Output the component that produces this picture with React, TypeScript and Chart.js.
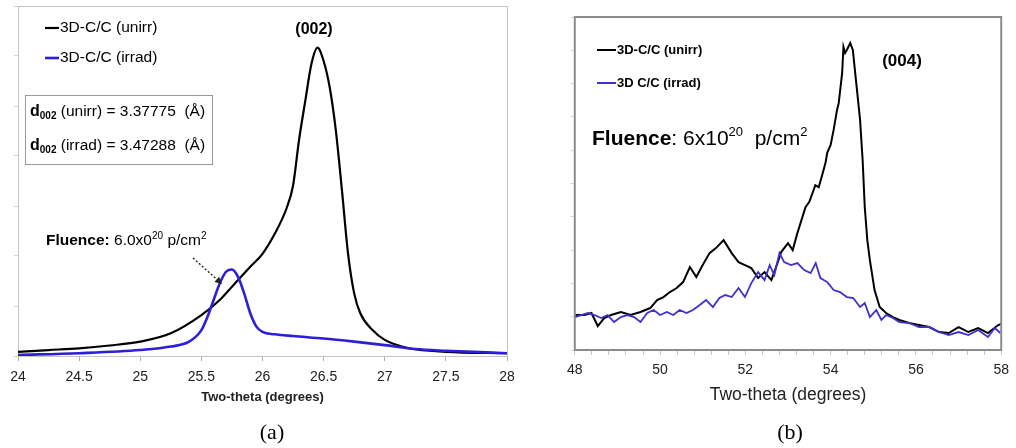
import React, { useEffect, useRef } from "react";
import { Chart, registerables } from "chart.js";
Chart.register(...registerables);

const FONT = "'Liberation Sans', Arial, Helvetica, sans-serif";
const SERIF = "'Liberation Serif', 'Times New Roman', serif";

// ---------- Panel (a): (002) peak ----------
const thetaA_unirr = [24, 24.25, 24.5, 24.75, 25, 25.25, 25.5, 25.65, 25.75, 25.9, 26, 26.1, 26.2, 26.25, 26.3, 26.35, 26.4, 26.45, 26.5, 26.55, 26.6, 26.65, 26.7, 26.75, 26.8, 26.9, 27, 27.2, 27.5, 28];
const intensityA_unirr = [1.2, 1.7, 2.2, 3.0, 4.1, 6.5, 11.7, 16, 19.8, 25.5, 29.2, 34.9, 42.5, 48.7, 62, 72.9, 83.4, 88.1, 84.3, 76.7, 64.4, 47.3, 29.2, 17.9, 12.2, 7.4, 4.6, 2.2, 1.2, 0.8];
const thetaA_irrad = [24, 24.5, 25, 25.25, 25.4, 25.5, 25.55, 25.6, 25.65, 25.7, 25.75, 25.8, 25.85, 25.9, 25.95, 26, 26.1, 26.25, 26.5, 26.75, 27, 27.25, 27.5, 28];
const intensityA_irrad = [0.3, 0.8, 1.7, 2.7, 4.1, 7.4, 11.2, 16, 20.7, 24, 24.7, 22.6, 17.9, 12.2, 8.4, 6.9, 6.2, 5.7, 5.0, 4.1, 3.1, 2.0, 1.5, 0.8];
const legendA = ["3D-C/C (unirr)", "3D-C/C (irrad)"];
const dSpacingA = ["3.37775", "3.47288"];

// ---------- Panel (b): (004) peak ----------
const thetaB_unirr = [48, 48.23, 48.39, 48.54, 48.69, 48.85, 49.08, 49.31, 49.54, 49.77, 49.93, 50.08, 50.23, 50.39, 50.54, 50.7, 50.85, 51.0, 51.16, 51.31, 51.49, 51.68, 51.84, 51.99, 52.14, 52.3, 52.45, 52.61, 52.72, 52.84, 53.0, 53.11, 53.22, 53.41, 53.5, 53.6, 53.64, 53.72, 53.8, 53.88, 53.92, 54.0, 54.07, 54.15, 54.19, 54.27, 54.3, 54.34, 54.38, 54.46, 54.52, 54.61, 54.69, 54.75, 54.8, 54.86, 54.92, 55.03, 55.15, 55.3, 55.46, 55.61, 55.84, 56.07, 56.31, 56.54, 56.77, 57.0, 57.23, 57.46, 57.69, 57.93, 58];
const intensityB_unirr = [10.5, 10.5, 11.1, 7.2, 9.6, 10.5, 11.4, 10.5, 11.4, 12.6, 15.0, 15.9, 17.4, 18.6, 20.4, 24.9, 21.9, 25.5, 29.1, 30.6, 33.0, 29.1, 26.4, 25.5, 24.6, 21.6, 23.4, 21.0, 24.9, 29.4, 32.1, 30.0, 35.1, 42.9, 44.5, 48.0, 49.5, 48.9, 52.5, 56.2, 59.2, 61.6, 66.1, 72.1, 74.2, 83.2, 91.0, 89.2, 90.1, 92.2, 90.1, 79.0, 69.1, 57.1, 42.9, 33.0, 27.0, 18.0, 12.9, 11.1, 9.9, 9.0, 8.1, 7.5, 6.9, 5.4, 5.1, 6.9, 5.4, 6.6, 5.1, 7.5, 7.8];
const thetaB_irrad = [48, 48.31, 48.46, 48.62, 48.77, 48.92, 49.08, 49.23, 49.39, 49.54, 49.7, 49.85, 50.0, 50.16, 50.31, 50.46, 50.62, 50.77, 50.93, 51.08, 51.24, 51.39, 51.53, 51.68, 51.84, 51.99, 52.14, 52.3, 52.45, 52.57, 52.68, 52.8, 52.91, 53.07, 53.22, 53.38, 53.53, 53.65, 53.76, 53.92, 54.07, 54.22, 54.38, 54.53, 54.69, 54.8, 54.92, 55.07, 55.19, 55.3, 55.46, 55.61, 55.84, 56.07, 56.31, 56.54, 56.77, 57.0, 57.23, 57.46, 57.69, 57.85, 57.98];
const intensityB_irrad = [9.9, 11.1, 10.5, 9.6, 10.5, 8.4, 9.9, 10.5, 9.9, 8.4, 11.1, 12.0, 10.5, 11.4, 10.5, 12.0, 11.1, 12.0, 13.5, 15.0, 12.9, 15.6, 16.5, 15.9, 18.6, 15.9, 20.1, 23.4, 21.0, 25.5, 22.5, 29.1, 26.4, 25.5, 26.1, 24.0, 23.1, 26.1, 21.6, 20.4, 18.0, 17.4, 15.9, 15.6, 12.9, 14.1, 9.9, 12.0, 9.0, 10.5, 9.6, 8.4, 8.1, 6.9, 6.9, 5.4, 4.5, 5.4, 4.5, 6.0, 3.9, 6.6, 5.1];
const legendB = ["3D-C/C (unirr)", "3D C/C (irrad)"];

const BLACK = "#000000";
const BLUE_A = "#2d1ed8";
const BLUE_B = "#4030cc";

const pts = (xs: number[], ys: number[]) => xs.map((x, i) => ({ x, y: ys[i] }));

type Run = { t: string; f: string; dy?: number };
function drawRuns(ctx: CanvasRenderingContext2D, x: number, y: number, runs: Run[]) {
  ctx.textAlign = "left";
  ctx.textBaseline = "middle";
  ctx.fillStyle = "#000";
  let cx = x;
  for (const r of runs) {
    ctx.font = r.f;
    ctx.fillText(r.t, cx, y + (r.dy || 0));
    cx += ctx.measureText(r.t).width;
  }
}

const annotA = {
  id: "annotA",
  beforeDatasetsDraw(chart: any) {
    const { ctx, chartArea: ca } = chart;
    ctx.save();
    ctx.strokeStyle = "#c4c4c4";
    ctx.lineWidth = 1;
    ctx.strokeRect(ca.left + 0.5, ca.top + 0.5, ca.right - ca.left, ca.bottom - ca.top);
    ctx.restore();
  },
  afterDraw(chart: any) {
    const ctx: CanvasRenderingContext2D = chart.ctx;
    ctx.save();
    // legend
    ctx.lineWidth = 2.2;
    ctx.strokeStyle = BLACK;
    ctx.beginPath(); ctx.moveTo(45, 28); ctx.lineTo(59, 28); ctx.stroke();
    drawRuns(ctx, 60, 28, [{ t: legendA[0], f: `15.5px ${FONT}` }]);
    ctx.strokeStyle = BLUE_A;
    ctx.lineWidth = 2.6;
    ctx.beginPath(); ctx.moveTo(45, 58); ctx.lineTo(59, 58); ctx.stroke();
    drawRuns(ctx, 60, 58, [{ t: legendA[1], f: `15.5px ${FONT}` }]);
    // d-spacing box
    ctx.strokeStyle = "#9a9a9a";
    ctx.lineWidth = 1;
    ctx.strokeRect(25.5, 95.5, 187, 69);
    drawRuns(ctx, 30, 112, [
      { t: "d", f: `bold 16px ${FONT}` },
      { t: "002", f: `bold 10px ${FONT}`, dy: 4 },
      { t: ` (unirr) = ${dSpacingA[0]}  (Å)`, f: `15.5px ${FONT}` },
    ]);
    drawRuns(ctx, 30, 146, [
      { t: "d", f: `bold 16px ${FONT}` },
      { t: "002", f: `bold 10px ${FONT}`, dy: 4 },
      { t: ` (irrad) = ${dSpacingA[1]}  (Å)`, f: `15.5px ${FONT}` },
    ]);
    // peak label
    ctx.font = `bold 16px ${FONT}`;
    ctx.textAlign = "center";
    ctx.textBaseline = "middle";
    ctx.fillStyle = "#000";
    ctx.fillText("(002)", 314, 30);
    // fluence
    drawRuns(ctx, 46, 241, [
      { t: "Fluence:", f: `bold 15.5px ${FONT}` },
      { t: " 6.0x0", f: `15.5px ${FONT}` },
      { t: "20", f: `10px ${FONT}`, dy: -5 },
      { t: " p/cm", f: `15.5px ${FONT}` },
      { t: "2", f: `10px ${FONT}`, dy: -5 },
    ]);
    // dotted arrow
    const x0 = 193, y0 = 258, x1 = 222, y1 = 284;
    ctx.strokeStyle = "#222";
    ctx.lineWidth = 1.4;
    ctx.setLineDash([2, 2]);
    ctx.beginPath(); ctx.moveTo(x0, y0); ctx.lineTo(x1 - 4, y1 - 3.6); ctx.stroke();
    ctx.setLineDash([]);
    const ang = Math.atan2(y1 - y0, x1 - x0);
    ctx.fillStyle = "#222";
    ctx.beginPath();
    ctx.moveTo(x1, y1);
    ctx.lineTo(x1 - 7 * Math.cos(ang) + 3.5 * Math.sin(ang), y1 - 7 * Math.sin(ang) - 3.5 * Math.cos(ang));
    ctx.lineTo(x1 - 7 * Math.cos(ang) - 3.5 * Math.sin(ang), y1 - 7 * Math.sin(ang) + 3.5 * Math.cos(ang));
    ctx.closePath(); ctx.fill();
    // panel label
    ctx.font = `22px ${SERIF}`;
    ctx.textAlign = "center";
    ctx.textBaseline = "middle";
    ctx.fillStyle = "#000";
    ctx.fillText("(a)", 272, 433);
    ctx.restore();
  },
};

const annotB = {
  id: "annotB",
  afterDraw(chart: any) {
    const ctx: CanvasRenderingContext2D = chart.ctx;
    const ca = chart.chartArea;
    ctx.save();
    ctx.strokeStyle = "#8c8c8c";
    ctx.lineWidth = 2;
    ctx.strokeRect(ca.left, ca.top, ca.right - ca.left, ca.bottom - ca.top);
    // legend
    ctx.lineWidth = 2;
    ctx.strokeStyle = BLACK;
    ctx.beginPath(); ctx.moveTo(37, 50); ctx.lineTo(56, 50); ctx.stroke();
    drawRuns(ctx, 57, 50, [{ t: legendB[0], f: `bold 13px ${FONT}` }]);
    ctx.strokeStyle = BLUE_B;
    ctx.beginPath(); ctx.moveTo(37, 83); ctx.lineTo(56, 83); ctx.stroke();
    drawRuns(ctx, 57, 83, [{ t: legendB[1], f: `bold 13px ${FONT}` }]);
    // fluence
    drawRuns(ctx, 32, 139, [
      { t: "Fluence", f: `bold 21px ${FONT}` },
      { t: ": 6x10", f: `21px ${FONT}` },
      { t: "20", f: `13px ${FONT}`, dy: -7 },
      { t: "  p/cm", f: `21px ${FONT}` },
      { t: "2", f: `13px ${FONT}`, dy: -7 },
    ]);
    // peak label
    ctx.font = `bold 17px ${FONT}`;
    ctx.textAlign = "center";
    ctx.textBaseline = "middle";
    ctx.fillStyle = "#000";
    ctx.fillText("(004)", 342, 61);
    ctx.font = `22px ${SERIF}`;
    ctx.fillText("(b)", 230, 433);
    ctx.restore();
  },
};

function makeConfigA(): any {
  return {
    type: "line",
    data: {
      datasets: [
        { label: legendA[1], data: pts(thetaA_irrad, intensityA_irrad), borderColor: BLUE_A, borderWidth: 2.6, pointRadius: 0, cubicInterpolationMode: "monotone", order: 0 },
        { label: legendA[0], data: pts(thetaA_unirr, intensityA_unirr), borderColor: BLACK, borderWidth: 2.2, pointRadius: 0, cubicInterpolationMode: "monotone", order: 1 },
      ],
    },
    options: {
      responsive: false,
      animation: false,
      devicePixelRatio: 1,
      events: [],
      layout: { padding: { left: 0, right: 33, top: 6, bottom: 0 } },
      plugins: { legend: { display: false }, tooltip: { enabled: false } },
      scales: {
        x: {
          type: "linear", min: 24, max: 28,
          ticks: {
            stepSize: 0.5, maxTicksLimit: 100, autoSkip: false, maxRotation: 0, padding: 8, color: "#222",
            font: { family: FONT, size: 14 },
            callback: (v: number) => String(Number(v.toFixed(1))),
          },
          grid: { drawOnChartArea: false, drawTicks: true, tickLength: 5, color: "#b0b0b0" },
          border: { display: false },
          title: { display: true, text: "Two-theta (degrees)", color: "#222", font: { family: FONT, size: 13, weight: "bold" }, padding: { top: 0, bottom: 43 } },
          afterFit: (s: any) => { s.height = 92; },
        },
        y: {
          type: "linear", min: 0, max: 100,
          ticks: { display: false, stepSize: 100 / 7, maxTicksLimit: 100 },
          grid: { drawOnChartArea: false, drawTicks: true, tickLength: 4, color: "#d4d4d4" },
          border: { display: false },
          afterFit: (s: any) => { s.width = 18; },
        },
      },
    },
    plugins: [annotA],
  };
}

function makeConfigB(): any {
  return {
    type: "line",
    data: {
      datasets: [
        { label: legendB[1], data: pts(thetaB_irrad, intensityB_irrad), borderColor: BLUE_B, borderWidth: 1.8, pointRadius: 0, tension: 0, order: 0 },
        { label: legendB[0], data: pts(thetaB_unirr, intensityB_unirr), borderColor: BLACK, borderWidth: 2, pointRadius: 0, tension: 0, order: 1 },
      ],
    },
    options: {
      responsive: false,
      animation: false,
      devicePixelRatio: 1,
      events: [],
      layout: { padding: { left: 0, right: 9, top: 17, bottom: 0 } },
      plugins: { legend: { display: false }, tooltip: { enabled: false } },
      scales: {
        x: {
          type: "linear", min: 48, max: 58,
          ticks: {
            stepSize: 0.4, maxTicksLimit: 100, autoSkip: false, maxRotation: 0, padding: 7, color: "#222",
            font: { family: FONT, size: 14 },
            callback: (v: number) => {
              const r = Math.round(v);
              return Math.abs(v - r) < 1e-6 && r % 2 === 0 ? String(r) : "";
            },
          },
          grid: { drawOnChartArea: false, drawTicks: true, tickLength: 5, color: "#c4c4c4" },
          border: { display: false },
          title: { display: true, text: "Two-theta (degrees)", color: "#222", font: { family: FONT, size: 17.5 }, padding: { top: 0, bottom: 42 } },
          afterFit: (s: any) => { s.height = 98; },
        },
        y: {
          type: "linear", min: 0, max: 100,
          ticks: { display: false, stepSize: 10, maxTicksLimit: 100 },
          grid: { drawOnChartArea: false, drawTicks: true, tickLength: 4, color: "#d8d8d8" },
          border: { display: false },
          afterFit: (s: any) => { s.width = 14; },
        },
      },
    },
    plugins: [annotB],
  };
}

export default function App() {
  const refA = useRef<HTMLCanvasElement>(null);
  const refB = useRef<HTMLCanvasElement>(null);
  useEffect(() => {
    const a = new Chart(refA.current as HTMLCanvasElement, makeConfigA());
    const b = new Chart(refB.current as HTMLCanvasElement, makeConfigB());
    return () => { a.destroy(); b.destroy(); };
  }, []);
  return (
    <div style={{ position: "fixed", left: 0, top: 0, width: 1016, height: 448, background: "#fff" }}>
      <canvas ref={refA} width={540} height={448} style={{ position: "absolute", left: 0, top: 0, width: 540, height: 448 }} />
      <canvas ref={refB} width={456} height={448} style={{ position: "absolute", left: 560, top: 0, width: 456, height: 448 }} />
    </div>
  );
}
